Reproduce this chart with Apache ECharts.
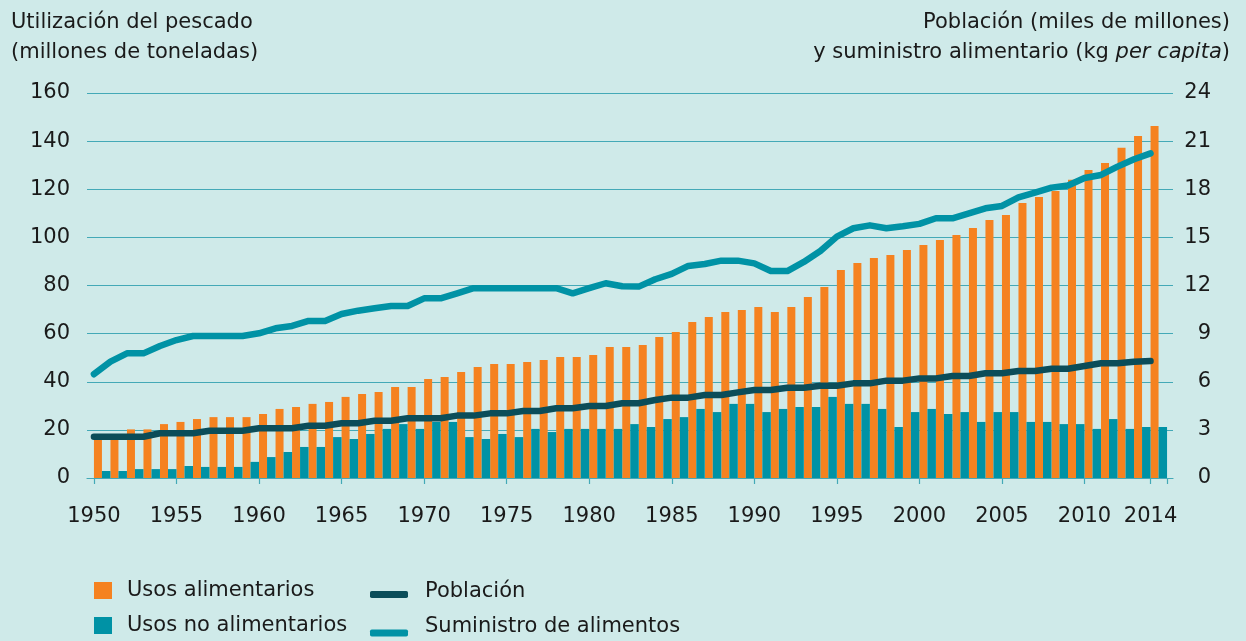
<!DOCTYPE html>
<html>
<head>
<meta charset="utf-8">
<script src="https://cdn.jsdelivr.net/npm/echarts@6/dist/echarts.min.js"></script>
<style>
  html, body { margin: 0; padding: 0; background: #cfeae9; }
  #chart { width: 1246px; height: 641px; }
</style>
</head>
<body>
<div id="chart"></div>
<script>
// Años 1950 - 2014
const years = [];
for (let y = 1950; y <= 2014; y++) years.push(y);

// Usos alimentarios (millones de toneladas)
const foodUse = [
  17, 17, 20.2, 20.2, 22.4, 23.3, 24.5, 25.3, 25.3, 25.3,
  26.6, 28.7, 29.5, 30.8, 31.6, 33.7, 34.9, 35.7, 37.8, 37.8,
  41.1, 42.0, 44.1, 46.1, 47.4, 47.4, 48.2, 49.0, 50.3, 50.3,
  51.1, 54.4, 54.4, 55.3, 58.6, 60.7, 64.8, 66.9, 69.0, 69.8,
  71.1, 69.0, 71.1, 75.2, 79.4, 86.4, 89.3, 91.4, 92.7, 94.8,
  96.8, 98.9, 101.0, 103.9, 107.2, 109.3, 114.3, 116.8, 119.3, 123.9,
  128.0, 130.9, 137.2, 142.1, 146.3
];

// Usos no alimentarios (millones de toneladas)
const nonFoodUse = [
  2.9, 2.9, 3.7, 3.7, 3.7, 5.0, 4.6, 4.6, 4.6, 6.7,
  8.7, 10.8, 12.9, 12.9, 17.0, 16.2, 18.3, 20.4, 22.4, 20.4,
  23.3, 23.3, 17.0, 16.2, 18.3, 17.0, 20.4, 19.1, 20.4, 20.4,
  20.4, 20.4, 22.4, 21.2, 24.5, 25.3, 28.7, 27.4, 30.8, 30.8,
  27.4, 28.7, 29.5, 29.5, 33.7, 30.8, 30.8, 28.7, 21.2, 27.4,
  28.7, 26.6, 27.4, 23.3, 27.4, 27.4, 23.3, 23.3, 22.4, 22.4,
  20.4, 24.5, 20.4, 21.2, 21.2
];

// Población (miles de millones)
const population = [
  2.57, 2.57, 2.57, 2.57, 2.79, 2.79, 2.79, 2.95, 2.95, 2.95,
  3.10, 3.10, 3.10, 3.26, 3.26, 3.41, 3.41, 3.57, 3.57, 3.72,
  3.72, 3.72, 3.89, 3.89, 4.03, 4.03, 4.18, 4.18, 4.35, 4.35,
  4.49, 4.49, 4.66, 4.66, 4.86, 5.01, 5.01, 5.17, 5.17, 5.34,
  5.49, 5.49, 5.63, 5.63, 5.75, 5.75, 5.90, 5.90, 6.07, 6.07,
  6.21, 6.21, 6.36, 6.36, 6.53, 6.53, 6.67, 6.67, 6.81, 6.81,
  6.98, 7.15, 7.15, 7.25, 7.29
];

// Suministro de alimentos (kg per capita)
const foodSupply = [
  6.47, 7.25, 7.77, 7.77, 8.23, 8.6, 8.85, 8.85, 8.85, 8.85,
  9.02, 9.33, 9.48, 9.79, 9.79, 10.22, 10.43, 10.58, 10.72, 10.72,
  11.2, 11.2, 11.51, 11.83, 11.83, 11.83, 11.83, 11.83, 11.83, 11.51,
  11.83, 12.14, 11.95, 11.93, 12.39, 12.72, 13.22, 13.34, 13.55, 13.55,
  13.38, 12.9, 12.9, 13.47, 14.15, 15.05, 15.57, 15.75, 15.57, 15.69,
  15.84, 16.19, 16.19, 16.5, 16.81, 16.96, 17.5, 17.79, 18.1, 18.23,
  18.7, 18.89, 19.41, 19.87, 20.24
];

const xLabelYears = [1950, 1955, 1960, 1965, 1970, 1975, 1980, 1985, 1990, 1995, 2000, 2005, 2010, 2014];
const xTickYears = [1950, 1955, 1960, 1965, 1970, 1975, 1980, 1985, 1990, 1995, 2000, 2005, 2010, 2014, 2015];

const FONT = 'DejaVu Sans';
const TXT = '#1a1a1a';
const GRIDC = '#44a9b7';
const ORANGE = '#f58220';
const TEAL = '#0092a5';
const DARK = '#0b4d59';

const chart = echarts.init(document.getElementById('chart'));

const pairs = arr => years.map((y, i) => [y, arr[i]]);
const txt = { fontFamily: FONT, fontSize: 21, fontWeight: 'normal', color: TXT };

// una leyenda por elemento para colocarlos como en el original
function legendItem(name, left, top, opts, gapLeft, lift) {
  return Object.assign({
    data: [name], left: left, top: top, padding: 0,
    formatter: '{a|{name}}',
    textStyle: Object.assign({
      rich: { a: Object.assign({ padding: [0, 0, lift, gapLeft] }, txt) }
    }, txt)
  }, opts);
}

chart.setOption({
  backgroundColor: '#cfeae9',
  textStyle: { fontFamily: FONT },
  title: [
    {
      text: 'Utilización del pescado\n(millones de toneladas)',
      left: 6, top: 3,
      textStyle: Object.assign({ lineHeight: 30 }, txt)
    },
    {
      text: 'Población (miles de millones)',
      right: 11, top: 3,
      textStyle: Object.assign({ lineHeight: 30 }, txt)
    },
    {
      text: 'y suministro alimentario (kg {i|per capita})',
      right: 11, top: 33,
      textStyle: Object.assign({
        lineHeight: 30,
        rich: { i: Object.assign({ fontStyle: 'italic', lineHeight: 30 }, txt) }
      }, txt)
    }
  ],
  legend: [
    legendItem('Usos alimentarios', 94, 580, { icon: 'rect', itemWidth: 18, itemHeight: 17 }, 10, 0),
    legendItem('Usos no alimentarios', 94, 615, { icon: 'rect', itemWidth: 18, itemHeight: 17 }, 10, 0),
    legendItem('Población', 370, 581, { icon: 'roundRect', itemWidth: 38, itemHeight: 7 }, 12, 6),
    legendItem('Suministro de alimentos', 370, 616, { icon: 'roundRect', itemWidth: 38, itemHeight: 7 }, 12, 13)
  ],
  grid: { left: 87, right: 73, top: 93, bottom: 163, containLabel: false },
  xAxis: [
    {
      // eje de las barras: cada par de barras ocupa el intervalo que sigue a su marca
      type: 'value', min: 1949.08, max: 2014.86, show: false, position: 'bottom'
    },
    {
      type: 'value', min: 1949.58, max: 2015.36, position: 'bottom',
      axisLine: { show: true, onZero: false, lineStyle: { color: GRIDC, width: 1.2 } },
      axisTick: { show: true, length: 6, customValues: xTickYears, lineStyle: { color: GRIDC, width: 1.2 } },
      axisLabel: Object.assign({ customValues: xLabelYears, margin: 28, formatter: v => String(v) }, txt),
      splitLine: { show: false }
    }
  ],
  yAxis: [
    {
      type: 'value', min: 0, max: 160, interval: 20,
      axisLine: { show: false }, axisTick: { show: false },
      axisLabel: Object.assign({ margin: 17 }, txt),
      splitLine: { lineStyle: { color: GRIDC, width: 1.2 } }
    },
    {
      type: 'value', min: 0, max: 24, interval: 3, position: 'right',
      axisLine: { show: false }, axisTick: { show: false },
      axisLabel: Object.assign({ margin: 38, align: 'right' }, txt),
      splitLine: { show: false }
    }
  ],
  series: [
    {
      name: 'Usos alimentarios', type: 'bar', xAxisIndex: 0, yAxisIndex: 0,
      data: pairs(foodUse), barWidth: 8, barGap: '0%',
      color: ORANGE, itemStyle: { color: ORANGE }, z: 2
    },
    {
      name: 'Usos no alimentarios', type: 'bar', xAxisIndex: 0, yAxisIndex: 0,
      data: pairs(nonFoodUse), barWidth: 8.5, barGap: '0%',
      color: TEAL, itemStyle: { color: TEAL }, z: 2
    },
    {
      name: 'Población', type: 'line', xAxisIndex: 1, yAxisIndex: 1,
      data: pairs(population), showSymbol: false, symbol: 'none',
      color: DARK,
      lineStyle: { color: DARK, width: 6.5, cap: 'round', join: 'round' },
      itemStyle: { color: DARK }, z: 4
    },
    {
      name: 'Suministro de alimentos', type: 'line', xAxisIndex: 1, yAxisIndex: 1,
      data: pairs(foodSupply), showSymbol: false, symbol: 'none',
      color: TEAL,
      lineStyle: { color: TEAL, width: 6.5, cap: 'round', join: 'round' },
      itemStyle: { color: TEAL }, z: 4
    }
  ]
});

window.addEventListener('resize', () => chart.resize());
</script>
</body>
</html>
